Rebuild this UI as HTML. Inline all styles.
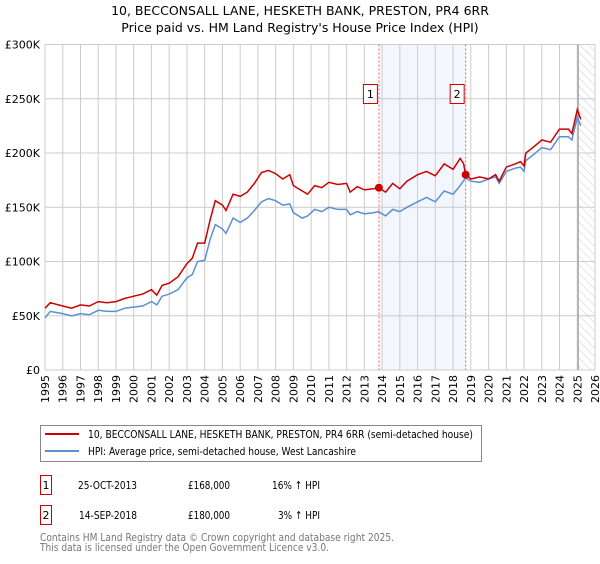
<!DOCTYPE html>
<html><head><meta charset="utf-8"><style>
body{margin:0;background:#fff;width:600px;height:560px;overflow:hidden;font-family:"DejaVu Sans","Liberation Sans",sans-serif}
svg text{font-family:"DejaVu Sans","Liberation Sans",sans-serif}
</style></head><body>
<svg id="chart" width="600" height="560" xmlns="http://www.w3.org/2000/svg">
<text x="300" y="15" text-anchor="middle" font-size="12.5" fill="#000">10, BECCONSALL LANE, HESKETH BANK, PRESTON, PR4 6RR</text>
<text x="300" y="32" text-anchor="middle" font-size="12.5" fill="#000">Price paid vs. HM Land Registry's House Price Index (HPI)</text>
<g id="grid"></g>
<g id="marks"></g>
<g id="axes"></g>
<rect x="40.5" y="425.5" width="441" height="36" fill="#fff" stroke="#888"/>
<line x1="45" y1="434" x2="79" y2="434" stroke="#cc0000" stroke-width="2"/>
<text x="88" y="438" font-size="11" fill="#000" textLength="385" lengthAdjust="spacingAndGlyphs">10, BECCONSALL LANE, HESKETH BANK, PRESTON, PR4 6RR (semi-detached house)</text>
<line x1="45" y1="451" x2="79" y2="451" stroke="#5b8fd4" stroke-width="2"/>
<text x="88" y="455" font-size="11" fill="#000" textLength="268" lengthAdjust="spacingAndGlyphs">HPI: Average price, semi-detached house, West Lancashire</text>
<g font-size="11" fill="#000">
<rect x="40.5" y="475.5" width="11" height="19" fill="#fff" stroke="#cc0000"/>
<text x="46" y="489" text-anchor="middle">1</text>
<text x="78" y="489" textLength="59" lengthAdjust="spacingAndGlyphs">25-OCT-2013</text>
<text x="188" y="489" textLength="42" lengthAdjust="spacingAndGlyphs">£168,000</text>
<text x="272" y="489" textLength="48" lengthAdjust="spacingAndGlyphs">16% ↑ HPI</text>
</g>
<g font-size="11" fill="#000">
<rect x="40.5" y="505.5" width="11" height="19" fill="#fff" stroke="#cc0000"/>
<text x="46" y="519" text-anchor="middle">2</text>
<text x="79" y="519" textLength="58" lengthAdjust="spacingAndGlyphs">14-SEP-2018</text>
<text x="188" y="519" textLength="42" lengthAdjust="spacingAndGlyphs">£180,000</text>
<text x="278" y="519" textLength="42" lengthAdjust="spacingAndGlyphs">3% ↑ HPI</text>
</g>
<text x="40" y="541" font-size="11" fill="#777" textLength="354" lengthAdjust="spacingAndGlyphs">Contains HM Land Registry data © Crown copyright and database right 2025.</text>
<text x="40" y="551" font-size="11" fill="#777" textLength="289" lengthAdjust="spacingAndGlyphs">This data is licensed under the Open Government Licence v3.0.</text>
</svg>
<script>
const yearTicks=[1995,1996,1997,1998,1999,2000,2001,2002,2003,2004,2005,2006,2007,2008,2009,2010,2011,2012,2013,2014,2015,2016,2017,2018,2019,2020,2021,2022,2023,2024,2025,2026];
const valueTicks=[0,50000,100000,150000,200000,250000,300000];
const valueTickLabels=["£0","£50K","£100K","£150K","£200K","£250K","£300K"];
const hpiDates=[1995,1995.3,1996,1996.5,1997,1997.5,1998,1998.5,1999,1999.5,2000,2000.5,2001,2001.3,2001.6,2002,2002.5,2003,2003.3,2003.6,2004,2004.3,2004.6,2005,2005.2,2005.6,2006,2006.4,2006.8,2007.2,2007.6,2008,2008.4,2008.8,2009,2009.5,2009.8,2010.2,2010.6,2011,2011.5,2012,2012.2,2012.6,2013,2013.5,2013.8,2014.2,2014.6,2015,2015.4,2016,2016.5,2017,2017.5,2018,2018.4,2018.7,2019,2019.5,2020,2020.4,2020.6,2021,2021.5,2021.8,2022,2022.1,2022.5,2023,2023.5,2024,2024.5,2024.7,2025,2025.2];
const hpiValues=[48,54,52,50,52,51,55,54,54,57,58,59,63,60,68,70,74,85,88,100,101,120,134,130,126,140,136,140,147,155,158,156,152,153,145,140,142,148,146,150,148,148,143,146,144,145,146,142,148,146,150,155,159,155,165,162,170,177,174,173,176,178,172,183,186,187,183,193,198,205,203,215,215,212,233,225];
const priceDates=[1995,1995.3,1996,1996.5,1997,1997.5,1998,1998.5,1999,1999.5,2000,2000.5,2001,2001.3,2001.6,2002,2002.5,2003,2003.3,2003.6,2004,2004.3,2004.6,2005,2005.2,2005.6,2006,2006.4,2006.8,2007.2,2007.6,2008,2008.4,2008.8,2009,2009.5,2009.8,2010.2,2010.6,2011,2011.5,2012,2012.2,2012.6,2013,2013.5,2013.8,2014.2,2014.6,2015,2015.4,2016,2016.5,2017,2017.5,2018,2018.4,2018.6,2018.7,2019,2019.5,2020,2020.4,2020.6,2021,2021.5,2021.8,2022,2022.1,2022.5,2023,2023.5,2024,2024.5,2024.7,2025,2025.2];
const priceValues=[57,62,59,57,60,59,63,62,63,66,68,70,74,69,78,80,86,98,103,117,117,138,156,152,147,162,160,164,172,182,184,181,176,180,170,165,162,170,168,173,171,172,164,169,166,167,168,164,172,167,174,180,183,179,190,185,195,190,180,176,178,176,180,174,187,190,192,188,200,205,212,210,222,222,218,240,231];
const saleDates=[2013.82,2018.71];
const saleValues=[168000,180000];
const saleLabels=["1","2"];

const X0=45,X1=595,Y0=370,Y1=44.5;
const x=d=>X0+(d-1995)/(2026-1995)*(X1-X0);
const y=v=>Y0-v/300000*(Y0-Y1);
const NS="http://www.w3.org/2000/svg";
function mk(tag,parent,attrs){const e=document.createElementNS(NS,tag);for(const k in attrs)e.setAttribute(k,attrs[k]);parent.appendChild(e);return e;}
const grid=document.getElementById('grid'),marks=document.getElementById('marks'),axes=document.getElementById('axes');

let sh=mk('rect',grid,{x:x(saleDates[0]),y:Y1,width:x(saleDates[1])-x(saleDates[0]),height:Y0-Y1,fill:'#eef3fc',opacity:0.7});


const defs=mk('defs',grid,{});
const pat=mk('pattern',defs,{id:'hatch',width:6,height:6,patternUnits:'userSpaceOnUse',patternTransform:'rotate(-45)'});
mk('line',pat,{x1:0,y1:0,x2:0,y2:6,stroke:'#ccc','stroke-width':1});
let ht=mk('rect',grid,{x:x(2025.05),y:Y1,width:X1-x(2025.05),height:Y0-Y1,fill:'url(#hatch)'});



yearTicks.forEach(t=>{
  let l=mk('line',grid,{x1:x(t),y1:Y1,x2:x(t),y2:Y0,stroke:'#cccccc','stroke-width':1});
  
  
  let tx=mk('text',axes,{transform:`translate(${x(t)+4},${Y0+5}) rotate(-90)`,'text-anchor':'end','font-size':11,fill:'#000'});
  
  
  tx.textContent=t;
});
valueTicks.forEach((v,i)=>{
  let l=mk('line',grid,{x1:X0,y1:y(v),x2:X1,y2:y(v),stroke:'#cccccc','stroke-width':1});
  
  
  let tx=mk('text',axes,{x:40,y:y(v)+4,'text-anchor':'end','font-size':11,fill:'#000'});
  
  
  tx.textContent=valueTickLabels[i];
});
let vl=mk('line',grid,{x1:x(2025.05),y1:Y1,x2:x(2025.05),y2:Y0,stroke:'#999','stroke-width':1.2});



saleDates.forEach((d,i)=>{
  let l=mk('line',marks,{x1:x(d),y1:Y1,x2:x(d),y2:Y0,stroke:'#ee6666','stroke-width':1,'stroke-dasharray':'2,2'});
  
  
});
function pts(ds,vs){return ds.map((d,i)=>x(d).toFixed(1)+','+y(vs[i]*1000).toFixed(1)).join(' ');}
let hp=mk('polyline',marks,{points:pts(hpiDates,hpiValues),fill:'none',stroke:'#5b8fd4','stroke-width':1.5});


let pp=mk('polyline',marks,{points:pts(priceDates,priceValues),fill:'none',stroke:'#cc0000','stroke-width':1.5});


saleDates.forEach((d,i)=>{
  let c=mk('circle',marks,{cx:x(d),cy:y(saleValues[i]),r:4,fill:'#cc0000'});
  
  
  let g=mk('g',marks,{});
  
  
  mk('rect',g,{x:x(d)-15.5,y:84.5,width:14,height:19,fill:'#fff',stroke:'#cc0000'});
  const t=mk('text',g,{x:x(d)-8.5,y:98,'text-anchor':'middle','font-size':11,fill:'#000'});
  t.textContent=saleLabels[i];
});
</script>
</body></html>
